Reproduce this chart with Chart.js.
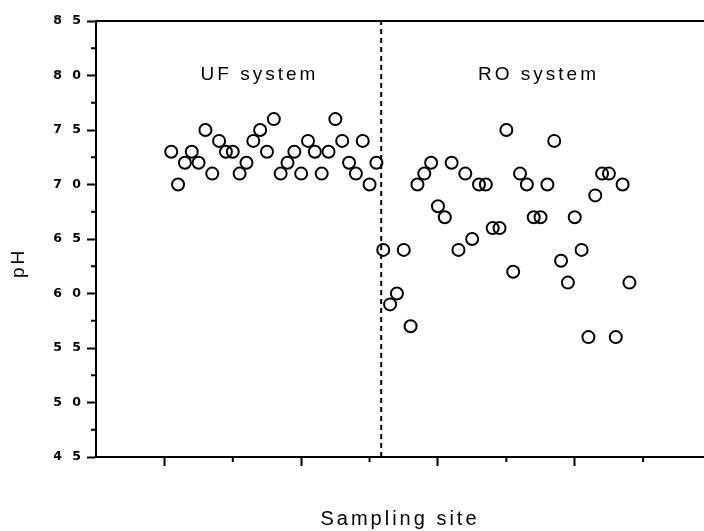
<!DOCTYPE html>
<html>
<head>
<meta charset="utf-8">
<title>pH by sampling site</title>
<script src="https://cdn.jsdelivr.net/npm/chart.js@4.4.1/dist/chart.umd.min.js"></script>
<style>
  html, body { margin: 0; padding: 0; background: #fff; overflow: hidden; }
</style>
</head>
<body>
<canvas id="chart" width="704" height="531"></canvas>
<script>
// sampling sites (x) and measured pH (y)
const ufSites = [11, 12, 13, 14, 15, 16, 17, 18, 19, 20, 21, 22, 23, 24, 25, 26,
  27, 28, 29, 30, 31, 32, 33, 34, 35, 36, 37, 38, 39, 40, 41];
const ufPH = [7.3, 7.0, 7.2, 7.3, 7.2, 7.5, 7.1, 7.4, 7.3, 7.3, 7.1, 7.2, 7.4, 7.5, 7.3, 7.6,
  7.1, 7.2, 7.3, 7.1, 7.4, 7.3, 7.1, 7.3, 7.6, 7.4, 7.2, 7.1, 7.4, 7.0, 7.2];

const roSites = [42, 43, 44, 45, 46, 47, 48, 49, 50, 51, 52, 53, 54, 55, 56, 57, 58, 59,
  60, 61, 62, 63, 64, 65, 66, 67, 68, 69, 70, 71, 72, 73, 74, 75, 76, 77, 78];
const roPH = [6.4, 5.9, 6.0, 6.4, 5.7, 7.0, 7.1, 7.2, 6.8, 6.7, 7.2, 6.4, 7.1, 6.5, 7.0, 7.0, 6.6, 6.6,
  7.5, 6.2, 7.1, 7.0, 6.7, 6.7, 7.0, 7.4, 6.3, 6.1, 6.7, 6.4, 5.6, 6.9, 7.1, 7.1, 5.6, 7.0, 6.1];

// where the two systems are split
const dividerSite = 41.7;

// axis ticks
const yTickValues = [4.5, 5.0, 5.5, 6.0, 6.5, 7.0, 7.5, 8.0, 8.5];
const yTickLabels = ['4 5', '5 0', '5 5', '6 0', '6 5', '7 0', '7 5', '8 0', '8 5'];
const yMinorTicks = [4.75, 5.25, 5.75, 6.25, 6.75, 7.25, 7.75, 8.25];
const xMajorTicks = [10, 30, 50, 70];
const xMinorTicks = [20, 40, 60, 80];

const yMin = 4.5, yMax = 8.5;
const xMin = 0, xMax = 88.9;

// text placed inside the plot
const groupLabels = [
  { text: 'UF system', x: 23.9, y: 7.96 },
  { text: 'RO system', x: 64.7, y: 7.96 }
];

const INK = '#000';
const SPACING = '3px';

function toPoints(xs, ys) {
  return xs.map((x, i) => ({ x: x, y: ys[i] }));
}

// the old plotting program spaced its letters out
const spacingPlugin = {
  id: 'spacing',
  beforeLayout(chart) { chart.ctx.letterSpacing = SPACING; },
  beforeDraw(chart) {
    chart.ctx.letterSpacing = SPACING;
    chart.ctx.fillStyle = '#fff';
    chart.ctx.fillRect(0, 0, chart.width, chart.height);
  }
};

// top frame line, minor ticks, pH title and the group labels
const framePlugin = {
  id: 'frame',
  afterDraw(chart) {
    const ctx = chart.ctx;
    const area = chart.chartArea;
    const xs = chart.scales.x;
    const ys = chart.scales.y;

    ctx.save();
    ctx.strokeStyle = INK;
    ctx.lineWidth = 2;
    ctx.beginPath();
    ctx.moveTo(area.left - 1, area.top);
    ctx.lineTo(area.right, area.top);
    ctx.stroke();

    ctx.beginPath();
    yMinorTicks.forEach(v => {
      const py = ys.getPixelForValue(v);
      ctx.moveTo(area.left - 5, py);
      ctx.lineTo(area.left, py);
    });
    xMinorTicks.forEach(v => {
      const px = xs.getPixelForValue(v);
      ctx.moveTo(px, area.bottom);
      ctx.lineTo(px, area.bottom + 5);
    });
    ctx.stroke();

    ctx.fillStyle = INK;
    ctx.letterSpacing = SPACING;
    ctx.font = '19px "Liberation Sans", Arial, sans-serif';
    ctx.textAlign = 'center';
    ctx.textBaseline = 'alphabetic';
    groupLabels.forEach(l => {
      ctx.fillText(l.text, xs.getPixelForValue(l.x), ys.getPixelForValue(l.y));
    });

    ctx.font = '19px "Liberation Sans", Arial, sans-serif';
    ctx.textBaseline = 'middle';
    ctx.translate(19, ys.getPixelForValue(6.28));
    ctx.rotate(-Math.PI / 2);
    ctx.fillText('pH', 0, 0);
    ctx.restore();
  }
};

const circleStyle = {
  showLine: false,
  pointStyle: 'circle',
  pointRadius: 6,
  pointBorderWidth: 2,
  pointBorderColor: INK,
  pointBackgroundColor: 'rgba(0,0,0,0)'
};

new Chart(document.getElementById('chart').getContext('2d'), {
  type: 'scatter',
  data: {
    datasets: [
      Object.assign({ label: 'UF system', data: toPoints(ufSites, ufPH) }, circleStyle),
      Object.assign({ label: 'RO system', data: toPoints(roSites, roPH) }, circleStyle),
      {
        label: 'divider',
        type: 'line',
        data: [{ x: dividerSite, y: yMin }, { x: dividerSite, y: yMax }],
        borderColor: INK,
        borderWidth: 2,
        borderDash: [5, 4],
        pointRadius: 0,
        fill: false
      }
    ]
  },
  options: {
    responsive: false,
    devicePixelRatio: 1,
    animation: false,
    events: [],
    // the source figure is cropped on its right side, so the frame runs off the edge
    layout: { autoPadding: false, padding: { top: 21, left: 54, right: 0, bottom: 0 } },
    plugins: {
      legend: { display: false },
      tooltip: { enabled: false }
    },
    scales: {
      x: {
        type: 'linear',
        min: xMin,
        max: xMax,
        afterBuildTicks: s => { s.ticks = xMajorTicks.map(v => ({ value: v })); },
        ticks: { display: false },
        grid: { drawOnChartArea: false, drawTicks: true, tickLength: 9, tickWidth: 2, tickColor: INK },
        border: { display: true, color: INK, width: 2 },
        title: {
          display: true,
          text: 'Sampling site',
          color: INK,
          font: { family: '"Liberation Sans", Arial, sans-serif', size: 20 },
          padding: { top: 41, bottom: 0 }
        }
      },
      y: {
        type: 'linear',
        min: yMin,
        max: yMax,
        afterBuildTicks: s => { s.ticks = yTickValues.map(v => ({ value: v })); },
        afterFit: s => { s.width = 42; },
        ticks: {
          color: INK,
          padding: 3,
          font: { family: '"DejaVu Sans", sans-serif', size: 12.5, weight: 'bold' },
          callback: (v, i) => yTickLabels[i]
        },
        grid: { drawOnChartArea: false, drawTicks: true, tickLength: 9, tickWidth: 2, tickColor: INK },
        border: { display: true, color: INK, width: 2 }
      }
    }
  },
  plugins: [spacingPlugin, framePlugin]
});
</script>
</body>
</html>
